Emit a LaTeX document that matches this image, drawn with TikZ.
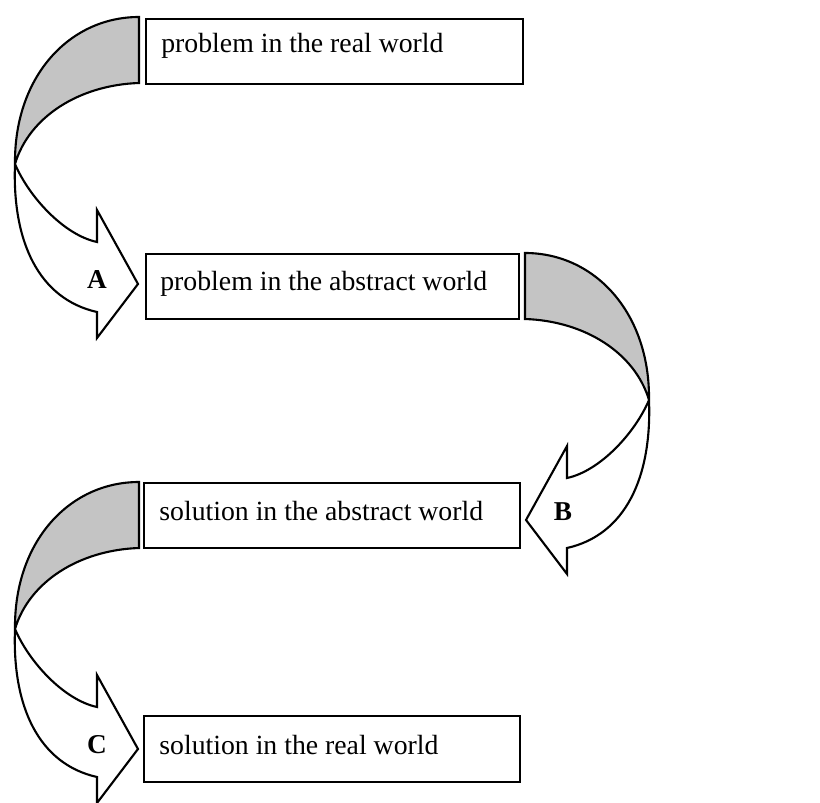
\documentclass[tikz,border=0pt]{standalone}
\usepackage{fontspec}
\setmainfont{Liberation Serif}
\definecolor{bandgray}{RGB}{196,196,196}
\tikzset{
  boxst/.style={draw=black, line width=1.2pt, fill=white, anchor=north west, inner sep=0pt},
  boxtext/.style={anchor=base west, inner sep=0pt, font=\fontsize{15.8}{18}\selectfont},
  lbl/.style={inner sep=0pt, font=\fontsize{15.5}{18}\selectfont\bfseries},
  bendarrow/.pic={
    \fill[bandgray] (0,0) .. controls (-70,0) and (-125,60) .. (-124,147)
      .. controls (-110,100) and (-60,68) .. (0,66) -- cycle;
    \draw[line width=1.2pt, line join=miter]
      (0,0) .. controls (-70,0) and (-125,60) .. (-124,147)
      .. controls (-127,225) and (-100,282) .. (-42,295)
      -- (-42,321) -- (-1,267) -- (-42,193) -- (-42,225)
      .. controls (-75,218) and (-110,180) .. (-124,147)
      .. controls (-110,100) and (-60,68) .. (0,66) -- cycle;
  }
}
\begin{document}
\begin{tikzpicture}[x=0.02cm, y=-0.02cm]
\useasboundingbox (0,0) rectangle (820,803);
% boxes
\node[boxst, minimum width=7.54cm, minimum height=1.30cm] (b1) at (145,18) {};
\node[boxst, minimum width=7.46cm, minimum height=1.30cm] (b2) at (145,253) {};
\node[boxst, minimum width=7.52cm, minimum height=1.30cm] (b3) at (143,482) {};
\node[boxst, minimum width=7.52cm, minimum height=1.32cm] (b4) at (143,715) {};
% texts
\node[boxtext] (t1) at (161,53) {problem in the real world};
\node[boxtext] (t2) at (160,291) {problem in the abstract world};
\node[boxtext] (t3) at (159,520) {solution in the abstract world};
\node[boxtext] (t4) at (159,754) {solution in the real world};
% bent arrows
\pic (arrA) at (139,17) {bendarrow};
\pic[xscale=-1] (arrB) at (525,253) {bendarrow};
\pic (arrC) at (139,482) {bendarrow};
% labels
\node[lbl] (la) at (97,280) {A};
\node[lbl] (lb) at (563,512) {B};
\node[lbl] (lc) at (97,745) {C};
\end{tikzpicture}
\end{document}
